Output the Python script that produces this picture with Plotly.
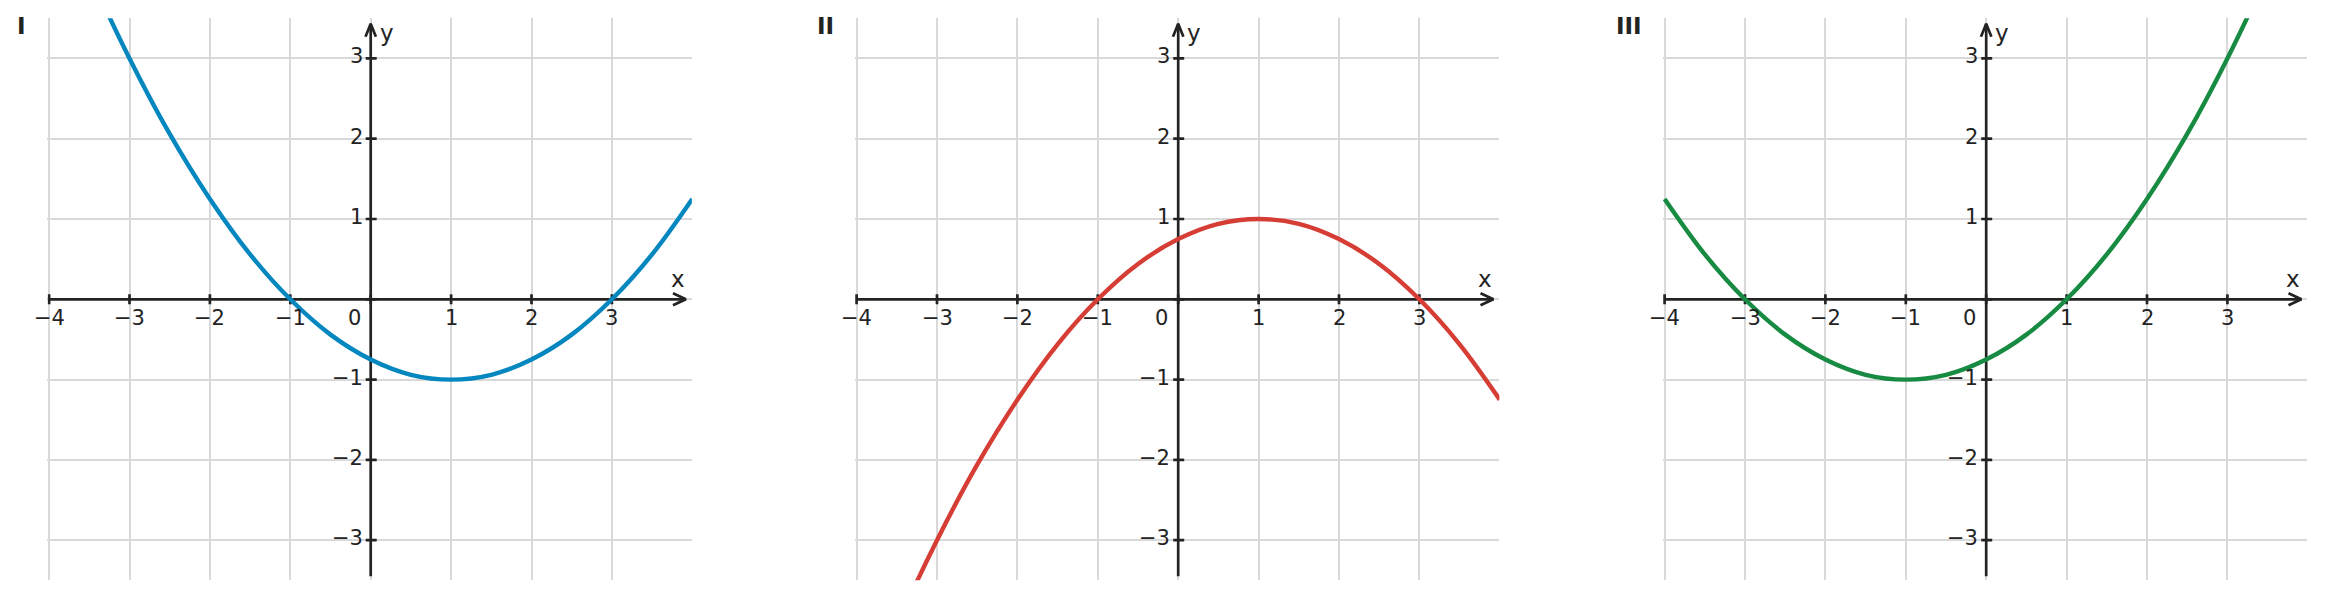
import plotly.graph_objects as go

# ---------------- data ----------------
x_vals = [-4.0, -3.5, -3.0, -2.5, -2.0, -1.5, -1.0, -0.5, 0.0, 0.5, 1.0, 1.5, 2.0, 2.5, 3.0, 3.5, 4.0]
curve_I = [5.25, 4.06, 3.0, 2.06, 1.25, 0.56, 0.0, -0.44, -0.75, -0.94, -1.0, -0.94, -0.75, -0.44, 0.0, 0.56, 1.25]
curve_II = [-5.25, -4.06, -3.0, -2.06, -1.25, -0.56, 0.0, 0.44, 0.75, 0.94, 1.0, 0.94, 0.75, 0.44, 0.0, -0.56, -1.25]
curve_III = [1.25, 0.56, 0.0, -0.44, -0.75, -0.94, -1.0, -0.94, -0.75, -0.44, 0.0, 0.56, 1.25, 2.06, 3.0, 4.06, 5.25]

panel_names = ["I", "II", "III"]
curve_colors = ["#0487bf", "#d63d35", "#178b42"]
curves = [curve_I, curve_II, curve_III]

x_ticks = [-4, -3, -2, -1, 0, 1, 2, 3]
x_tick_labels = ["−4", "−3", "−2", "−1", "", "1", "2", "3"]
y_ticks = [-3, -2, -1, 0, 1, 2, 3]
y_tick_labels = ["−3", "−2", "−1", "", "1", "2", "3"]

# ---------------- layout geometry ----------------
W, H = 2326, 599
X_RANGE = [-4.02, 3.995]
Y_RANGE = [-3.5, 3.5]
px_per_unit = 80.4
origins_px = [370.7, 1178.2, 1986.2]
y_top_px, y_bot_px = 18.25, 580.35

AX = "#232323"
GRID = "#d9d9d9"
FONT = "DejaVu Sans"
TICK_FS = 21

fig = go.Figure()
layout = dict(
    width=W, height=H,
    margin=dict(l=0, r=0, t=0, b=0),
    paper_bgcolor="white", plot_bgcolor="white",
    showlegend=False,
    hovermode=False,
    font=dict(family=FONT, color=AX),
)
annotations = []

tx = 5 / px_per_unit  # half tick length in units
for i in range(3):
    n = "" if i == 0 else str(i + 1)
    xa, ya = "x" + n, "y" + n
    o = origins_px[i]
    d0 = (o + X_RANGE[0] * px_per_unit) / W
    d1 = (o + X_RANGE[1] * px_per_unit) / W
    layout["xaxis" + n] = dict(
        domain=[d0, d1], range=X_RANGE, dtick=1, tick0=0,
        showgrid=True, gridcolor=GRID, gridwidth=2,
        zeroline=False, showticklabels=False, ticks="", showline=False,
        anchor=ya, fixedrange=True,
    )
    layout["yaxis" + n] = dict(
        domain=[(H - y_bot_px) / H, (H - y_top_px) / H], range=Y_RANGE, dtick=1, tick0=0,
        showgrid=True, gridcolor=GRID, gridwidth=2,
        zeroline=False, showticklabels=False, ticks="", showline=False,
        anchor=xa, fixedrange=True,
    )

    # axes, arrows and tick marks as one line trace
    ax_x, ax_y = [], []
    x_tip = 3.92
    y_tip = 3.43
    ax_x += [-4.0, x_tip, None]; ax_y += [0, 0, None]
    ax_x += [x_tip - 0.16, x_tip, x_tip - 0.16, None]; ax_y += [0.075, 0, -0.075, None]
    ax_x += [0, 0, None]; ax_y += [-3.45, y_tip, None]
    ax_x += [-0.065, 0, 0.065, None]; ax_y += [y_tip - 0.16, y_tip, y_tip - 0.16, None]
    for t in x_ticks:
        ax_x += [t, t, None]; ax_y += [-tx, tx, None]
    for t in y_ticks:
        ax_x += [-tx, tx * 1.2, None]; ax_y += [t, t, None]
    fig.add_trace(go.Scatter(x=ax_x, y=ax_y, mode="lines", xaxis=xa, yaxis=ya,
                             line=dict(color=AX, width=2.7), hoverinfo="skip"))

    fig.add_trace(go.Scatter(x=x_vals, y=curves[i], mode="lines", xaxis=xa, yaxis=ya,
                             line=dict(color=curve_colors[i], width=4.4, shape="spline", smoothing=1),
                             hoverinfo="skip"))

    for t, lab in zip(x_ticks, x_tick_labels):
        if lab:
            annotations.append(dict(x=t, y=0, xref=xa, yref=ya, text=lab, showarrow=False,
                                    xanchor="center", yanchor="middle", yshift=-19,
                                    font=dict(size=TICK_FS, color=AX, family=FONT)))
    for t, lab in zip(y_ticks, y_tick_labels):
        if lab:
            annotations.append(dict(x=0, y=t, xref=xa, yref=ya, text=lab, showarrow=False,
                                    xanchor="right", yanchor="middle", xshift=-6, yshift=2,
                                    font=dict(size=TICK_FS, color=AX, family=FONT)))
    annotations.append(dict(x=0, y=0, xref=xa, yref=ya, text="0", showarrow=False,
                            xanchor="right", yanchor="middle", xshift=-8, yshift=-19,
                            font=dict(size=TICK_FS, color=AX, family=FONT)))
    annotations.append(dict(x=3.82, y=0.25, xref=xa, yref=ya, text="x", showarrow=False,
                            xanchor="center", yanchor="middle",
                            font=dict(size=23, color=AX, family=FONT)))
    annotations.append(dict(x=0, y=3.32, xref=xa, yref=ya, text="y", showarrow=False,
                            xanchor="left", yanchor="middle", xshift=7,
                            font=dict(size=23, color=AX, family=FONT)))
    annotations.append(dict(x=(o - 4 * px_per_unit - 21) / W, y=1 - 26 / H, xref="paper", yref="paper",
                            text="<b>" + panel_names[i] + "</b>", showarrow=False,
                            xanchor="right", yanchor="middle",
                            font=dict(size=23, color=AX, family=FONT)))

layout["annotations"] = annotations
fig.update_layout(**layout)
fig.write_html("out.html", config={"displayModeBar": False})
